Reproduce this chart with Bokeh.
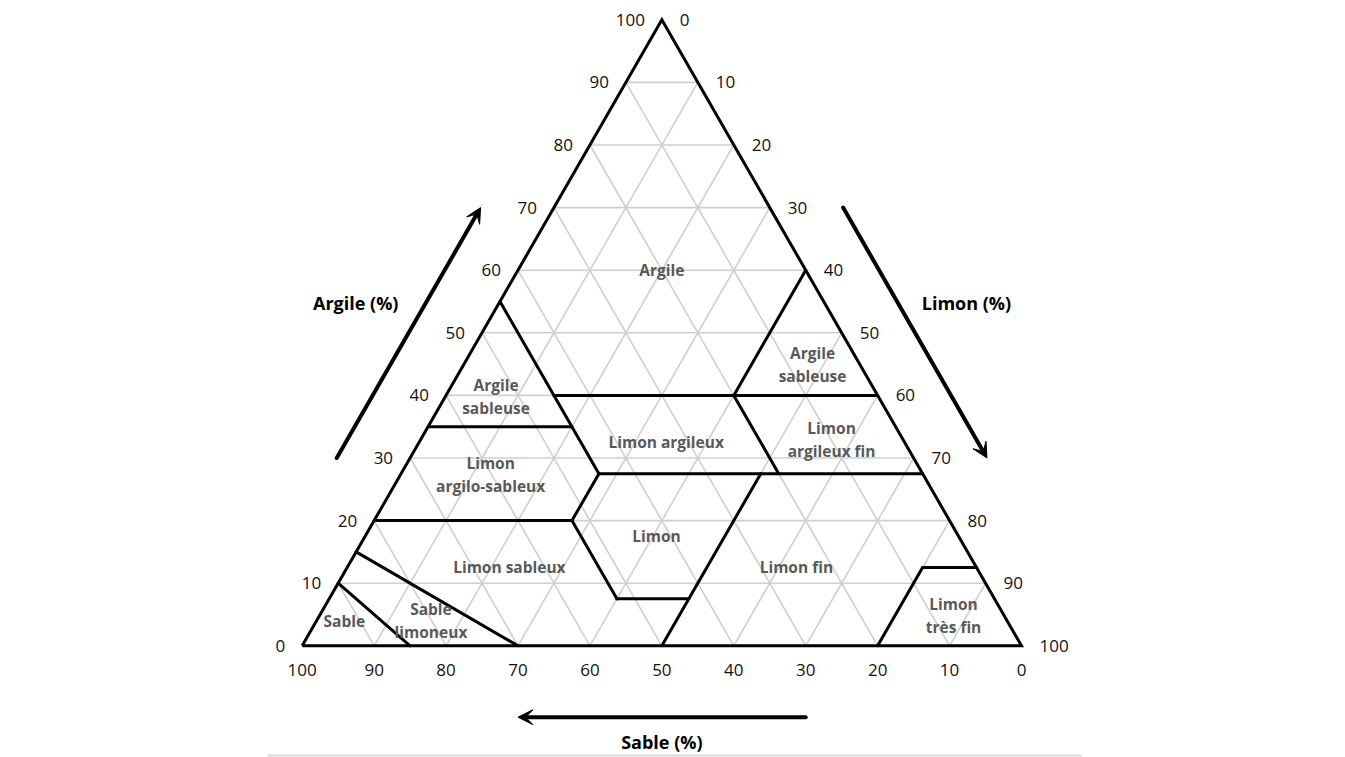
import numpy as np
from bokeh.plotting import figure
from bokeh.models import Range1d, Arrow, VeeHead
from bokeh.core.properties import value
from bokeh.embed import file_html
from bokeh.resources import INLINE

# ---------------- data (ternary: clay %, silt %) ----------------
tick_values = [0, 10, 20, 30, 40, 50, 60, 70, 80, 90, 100]
grid_values = [10, 20, 30, 40, 50, 60, 70, 80, 90]

# class boundaries: start (clay, silt) -> end (clay, silt)
bnd_clay0 = [55, 40, 40, 35, 27.5, 40, 27.5, 20, 20, 7.5, 27.5, 15, 10, 0, 12.5]
bnd_silt0 = [0, 15, 40, 0, 27.5, 40, 27.5, 0, 27.5, 40, 50, 0, 0, 80, 80]
bnd_clay1 = [27.5, 40, 60, 35, 27.5, 27.5, 20, 20, 7.5, 7.5, 0, 0, 0, 12.5, 12.5]
bnd_silt1 = [27.5, 60, 40, 20, 72.5, 52.5, 27.5, 27.5, 40, 50, 50, 30, 15, 80, 87.5]

class_names = ["Argile", "Argile\nsableuse", "Argile\nsableuse", "Limon argileux",
               "Limon\nargileux fin", "Limon\nargilo-sableux", "Limon", "Limon sableux",
               "Limon fin", "Sable", "Sable\nlimoneux", "Limon\ntrès fin"]
class_clay = [60, 44.9, 39.9, 32.6, 33.0, 27.4, 17.5, 12.6, 12.6, 3.9, 4.0, 4.9]
class_silt = [20, 48.5, 7.0, 34.3, 57.1, 12.5, 40.5, 22.5, 62.4, 3.9, 15.9, 88.1]

axis_titles = ["Argile (%)", "Limon (%)", "Sable (%)"]

# ---------------- helpers ----------------
def tx(clay, silt):
    return np.asarray(silt, float) + np.asarray(clay, float) / 2.0

def ty(clay, silt):
    return np.asarray(clay, float)

FONT = value("Open Sans")

W, H = 1345, 757
SX, SY = 7.193, 6.26          # pixels per unit
X0 = -301.7 / SX
Y1 = 645.3 / SY

p = figure(width=W, height=H,
           x_range=Range1d(X0, X0 + W / SX), y_range=Range1d(Y1 - H / SY, Y1),
           toolbar_location=None, output_backend="svg", min_border=0,
           x_axis_type=None, y_axis_type=None)
p.outline_line_color = None
p.background_fill_color = "white"
p.border_fill_color = "white"

# grid lines
gxs, gys = [], []
for k in grid_values:
    c = [k, k]; s = [0, 100 - k]                 # constant clay
    gxs.append(list(tx(c, s))); gys.append(list(ty(c, s)))
    c = [0, 100 - k]; s = [k, k]                 # constant silt
    gxs.append(list(tx(c, s))); gys.append(list(ty(c, s)))
    c = [0, 100 - k]; s = [100 - k, 0]           # constant sand
    gxs.append(list(tx(c, s))); gys.append(list(ty(c, s)))
p.multi_line(gxs, gys, line_color="#cfcfcf", line_width=1.6)

# boundaries
p.segment(x0=tx(bnd_clay0, bnd_silt0), y0=ty(bnd_clay0, bnd_silt0),
          x1=tx(bnd_clay1, bnd_silt1), y1=ty(bnd_clay1, bnd_silt1),
          line_color="black", line_width=3, line_cap="round")

# outline
oc = [0, 0, 100, 0]; os_ = [0, 100, 0, 0]
p.line(tx(oc, os_), ty(oc, os_), line_color="black", line_width=3, line_join="miter")

# tick labels
tv = np.array(tick_values, float)
lbl = [str(t) for t in tick_values]
p.text(x=tx(tv, 0 * tv), y=ty(tv, 0 * tv), text=lbl, text_align="right",
       text_baseline="middle", x_offset=-17, text_font=FONT,
       text_font_size="17px", text_color="#111111")
p.text(x=tx(100 - tv, tv), y=ty(100 - tv, tv), text=lbl, text_align="left",
       text_baseline="middle", x_offset=18, text_font=FONT,
       text_font_size="17px", text_color="#111111")
p.text(x=tx(0 * tv, 100 - tv), y=ty(0 * tv, 100 - tv), text=lbl, text_align="center",
       text_baseline="middle", y_offset=24, text_font=FONT,
       text_font_size="17px", text_color="#111111")

# class labels
lx, ly, lt, lo = [], [], [], []
for name, c, s in zip(class_names, class_clay, class_silt):
    parts = name.split("\n")
    n = len(parts)
    for i, part in enumerate(parts):
        lx.append(float(tx(c, s))); ly.append(float(ty(c, s)))
        lt.append(part); lo.append((i - (n - 1) / 2) * 23)
p.text(x=lx, y=ly, text=lt, y_offset=lo, text_align="center", text_baseline="middle",
       text_font=FONT, text_font_style="bold", text_font_size="15.5px",
       text_color="#595959")

# axis titles
p.text(x=[7.44, 92.35, 50.0], y=[54.8, 54.8, -15.3], text=axis_titles,
       text_align="center", text_baseline="middle", text_font=FONT,
       text_font_style="bold", text_font_size="18px", text_color="black")

# direction arrows
off = 10.2
for (x0, y0, x1, y1) in [
    (tx(30, 0) - off, 30, tx(70, 0) - off, 70),
    (tx(70, 30) + off, 70, tx(30, 70) + off, 30),
    (70, -11.4, 30, -11.4),
]:
    p.add_layout(Arrow(end=VeeHead(size=15, fill_color="black", line_color="black", line_width=1),
                       x_start=float(x0), y_start=float(y0), x_end=float(x1), y_end=float(y1),
                       line_width=4, line_color="black", line_cap="round"))

# bottom separator
p.segment(x0=[-4.82], y0=[(645.3 - 755) / SY], x1=[108.34], y1=[(645.3 - 755) / SY],
          line_color="#d9d9d9", line_width=2)

open("out.html", "w").write(file_html(p, INLINE))
